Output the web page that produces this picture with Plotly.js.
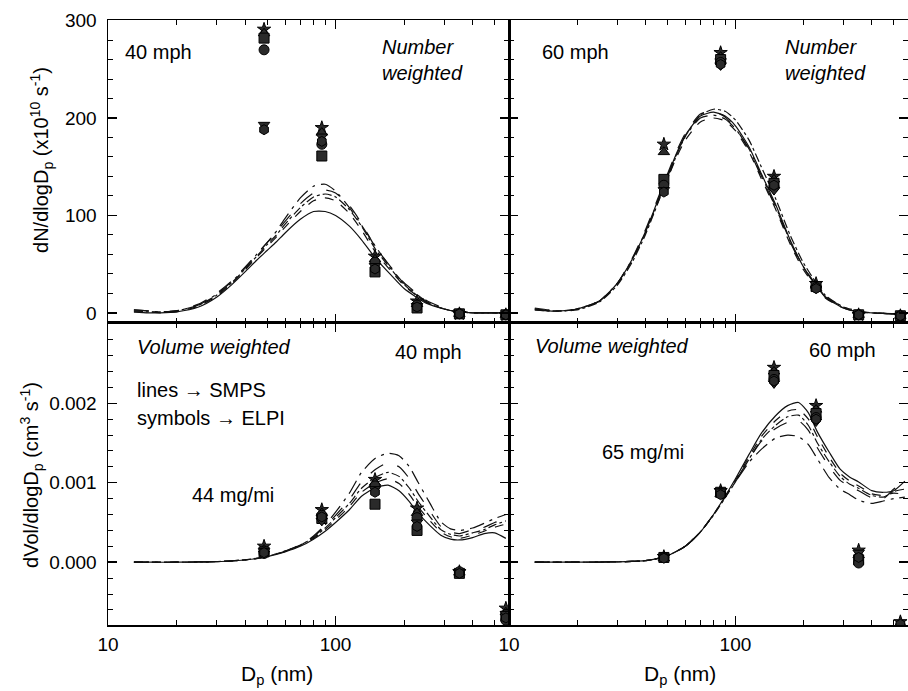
<!DOCTYPE html>
<html>
<head>
<meta charset="utf-8">
<script src="https://cdn.plot.ly/plotly-3.0.1.min.js"></script>
<style>html,body{margin:0;padding:0;background:#fff;}#chart{width:908px;height:691px;}</style>
</head>
<body>
<div id="chart"></div>
<script>
// ---------- DATA ----------
// SMPS size grid (nm) for number-weighted curves
var numD = [13,15,17,20,25,30,35,40,45,50,55,60,70,80,90,100,115,130,150,175,200,250,300,350,400,500,560];
// 40 mph, number weighted (x10^10 s^-1)
var tl1 = [1,0,0,1,6,16,29,42,54,64,73,82,96,104,104,100,89,75,56,39,25,10,4,1,0,0,0];
var tl2 = [2,1,0,1,7,17,30,44,57,68,78,88,104,115,118,115,102,85,62,43,28,11,4,1,0,0,0];
var tl3 = [1,1,1,2,8,18,31,45,58,70,80,91,108,119,122,119,106,89,65,45,29,11,4,1,0,0,0];
var tl4 = [3,2,1,2,9,20,33,47,60,72,83,94,112,123,126,123,110,92,67,47,31,13,5,2,0,0,0];
var tl5 = [3,2,1,2,8,19,32,46,60,72,84,97,118,130,132,125,108,90,68,46,30,12,4,1,0,0,-1];
// 60 mph, number weighted
var tr1 = [4,2,2,4,12,30,55,83,113,140,164,182,202,206,202,192,170,143,112,74,47,16,5,1,0,-1,-2];
var tr2 = [3,2,2,4,12,29,54,82,111,137,160,177,196,200,197,187,165,138,107,70,44,15,5,1,0,-1,-2];
var tr3 = [4,2,2,3,11,28,52,80,110,137,162,181,203,209,207,198,177,150,118,79,51,18,6,2,0,-1,-2];
var tr4 = [5,3,2,4,12,30,56,85,115,142,166,184,204,207,201,190,167,140,109,72,46,16,5,1,0,-1,-2];
var tr5 = [3,2,2,4,12,30,55,83,112,139,163,181,200,203,199,189,168,141,110,73,47,17,6,1,0,-1,-2];

// SMPS size grid (nm) for volume-weighted curves
var volD = [13,15,20,25,30,35,40,45,50,60,70,80,90,100,115,130,150,170,190,210,230,260,290,320,350,400,450,500,560];
// 40 mph, volume weighted (cm^3 s^-1)
var bl1 = [0,0,0,0.000003,0.000008,0.000015,0.000028,0.000045,0.00007,0.00013,0.0002,0.00029,0.00039,0.0005,0.00066,0.00083,0.00094,0.00097,0.0009,0.00077,0.00062,0.00046,0.00034,0.00029,0.00028,0.00031,0.00036,0.00037,0.0003];
var bl2 = [0,0,0,0.000003,0.000008,0.000015,0.000029,0.000047,0.000072,0.000135,0.00021,0.0003,0.00041,0.00053,0.0007,0.00088,0.001,0.00105,0.00099,0.00086,0.0007,0.00052,0.00038,0.00032,0.0003,0.00034,0.00039,0.00044,0.00048];
var bl3 = [0,0,0,0.000003,0.000008,0.000016,0.00003,0.000048,0.000073,0.000138,0.000215,0.00031,0.00043,0.00056,0.00074,0.00093,0.00107,0.00113,0.00108,0.00094,0.00077,0.00057,0.00041,0.00035,0.00033,0.00037,0.00041,0.00047,0.00052];
var bl4 = [0,0,0,0.000003,0.000008,0.000016,0.00003,0.000049,0.000074,0.00014,0.00022,0.00032,0.00045,0.00059,0.00079,0.00101,0.00117,0.00125,0.0012,0.00106,0.00087,0.00064,0.00045,0.00038,0.00036,0.00041,0.00044,0.0005,0.00054];
var bl5 = [0,0,0,0.000003,0.000008,0.000016,0.00003,0.00005,0.000075,0.00014,0.00021,0.00033,0.00047,0.00063,0.00087,0.00113,0.00131,0.00137,0.00134,0.00121,0.00101,0.00074,0.00051,0.00042,0.0004,0.00043,0.00049,0.00055,0.0006];
// 60 mph, volume weighted
var br1 = [0,0,0,0.000002,0.000005,0.00001,0.00002,0.000045,0.00008,0.0002,0.00038,0.0006,0.00083,0.00105,0.00136,0.00162,0.00184,0.00197,0.00201,0.00188,0.00164,0.00138,0.00117,0.00107,0.00101,0.0009,0.00088,0.0009,0.00102];
var br2 = [0,0,0,0.000002,0.000005,0.00001,0.00002,0.000045,0.00008,0.0002,0.00038,0.0006,0.00082,0.00103,0.00133,0.00158,0.00178,0.0019,0.00192,0.0018,0.00158,0.00132,0.00112,0.00102,0.00096,0.00086,0.00084,0.00087,0.00085];
var br3 = [0,0,0,0.000002,0.000005,0.00001,0.00002,0.000045,0.00008,0.0002,0.00038,0.00059,0.00081,0.00101,0.0013,0.00154,0.00172,0.00183,0.00185,0.00172,0.0015,0.00126,0.00108,0.00098,0.00093,0.00084,0.00082,0.00089,0.00092];
var br4 = [0,0,0,0.000002,0.000005,0.00001,0.00002,0.000045,0.00008,0.0002,0.00038,0.0006,0.00082,0.00102,0.0013,0.00152,0.00168,0.00176,0.00178,0.00166,0.00144,0.0012,0.00103,0.00095,0.0009,0.00081,0.0008,0.00092,0.001];
var br5 = [0,0,0,0.000002,0.000005,0.00001,0.00002,0.000045,0.00008,0.0002,0.00038,0.0006,0.00082,0.00101,0.00126,0.00142,0.00156,0.0016,0.00158,0.00148,0.0013,0.00106,0.00092,0.00085,0.00078,0.00074,0.00077,0.0008,0.00082];

// ELPI stage diameters (nm)
var elpiD40 = [48.5,87,149,228,350,560];
var elpiD60 = [48.3,86,148,227,350,535];
// ELPI runs, 40 mph number weighted
var tlS1 = [291,190,58,12,-1,-2];
var tlS2 = [287,185,55,9,-1,-2];
var tlS3 = [282,161,42,5,-1,-2];
var tlS4 = [270,173,52,8,-1,-2];
var tlS5 = [193,181,48,7,-1,-2];
var tlS6 = [188,176,45,6,-1,-2];
// ELPI runs, 60 mph number weighted
var trS1 = [173,267,140,30,-2,-3];
var trS2 = [165,263,137,28,-2,-3];
var trS3 = [137,260,133,27,-2,-3];
var trS4 = [131,257,129,26,-2,-3];
var trS5 = [126,254,126,25,-2,-3];
var trS6 = [124,255,131,25,-2,-3];
// ELPI runs, 40 mph volume weighted
var blS1 = [0.0002,0.00066,0.00104,0.00068,-0.00012,-0.00058];
var blS2 = [0.00016,0.00062,0.001,0.00062,-0.00013,-0.00063];
var blS3 = [0.00013,0.00055,0.00073,0.0004,-0.00014,-0.00068];
var blS4 = [0.00011,0.00059,0.00096,0.00056,-0.00012,-0.00073];
var blS5 = [0.00014,0.00052,0.00092,0.0005,-0.00013,-0.00065];
var blS6 = [0.00012,0.00057,0.00088,0.00045,-0.00014,-0.0007];
// ELPI runs, 60 mph volume weighted
var brS1 = [0.00007,0.0009,0.00245,0.00197,0.00015,-0.00075];
var brS2 = [0.00005,0.00086,0.0024,0.00192,0.00009,-0.00082];
var brS3 = [0.00006,0.00088,0.00235,0.00187,0.00003,-0.00088];
var brS4 = [0.00006,0.00087,0.0023,0.00182,-0.00001,-0.0008];
var brS5 = [0.00007,0.00089,0.00225,0.00177,0.00012,-0.00085];
var brS6 = [0.00005,0.00085,0.00228,0.0018,0.00006,-0.00078];

var majorTicksX = [10,100];
var majorTextX = ['10','100'];
var minorTicksX = [20,30,40,50,60,70,80,90,200,300,400,500];
var topTicksY = [0,100,200,300];
var topTextY = ['0','100','200','300'];
var botTicksY = [0,0.001,0.002];
var botTextY = ['0.000','0.001','0.002'];

// ---------- BUILD ----------
var dashes = ['solid','dash','dashdot','longdash','longdashdot'];
var syms = ['star','triangle-up','square','circle','triangle-down','hexagon'];
var traces = [];
function addLines(xs, ys, xa, ya){
  ys.forEach(function(y,i){
    traces.push({x:xs, y:y, xaxis:xa, yaxis:ya, mode:'lines', type:'scatter',
      line:{color:'#111', width:1.2, dash:dashes[i%dashes.length], shape:'spline', smoothing:0.6},
      hoverinfo:'skip', showlegend:false});
  });
}
function addSyms(xs, ys, xa, ya){
  ys.forEach(function(y,i){
    traces.push({x:xs, y:y, xaxis:xa, yaxis:ya, mode:'markers', type:'scatter',
      marker:{symbol:syms[i%syms.length], size:10, color:'#2a2a2a', line:{color:'#000', width:1}},
      showlegend:false});
  });
}
addLines(numD,[tl1,tl2,tl3,tl4,tl5],'x','y');
addSyms(elpiD40,[tlS1,tlS2,tlS3,tlS4,tlS5,tlS6],'x','y');
addLines(numD,[tr1,tr2,tr3,tr4,tr5],'x2','y2');
addSyms(elpiD60,[trS1,trS2,trS3,trS4,trS5,trS6],'x2','y2');
addLines(volD,[bl1,bl2,bl3,bl4,bl5],'x3','y3');
addSyms(elpiD40,[blS1,blS2,blS3,blS4,blS5,blS6],'x3','y3');
addLines(volD,[br1,br2,br3,br4,br5],'x4','y4');
addSyms(elpiD60,[brS1,brS2,brS3,brS4,brS5,brS6],'x4','y4');

var FONT = 'Liberation Sans, Arial, Helvetica, sans-serif';
var split = 0.50125, ysplit = 0.4992;
function xAx(dom, anchor, labels){
  return {type:'log', range:[1,2.762], domain:dom, anchor:anchor,
    showline:true, linecolor:'#000', linewidth:1.5, mirror:'ticks',
    ticks:'inside', ticklen:9, tickwidth:1.5, tickcolor:'#000',
    tickmode:'array', tickvals:majorTicksX, ticktext:majorTextX,
    showticklabels:labels, ticklabelstandoff:2,
    minor:{tickmode:'array', tickvals:minorTicksX, ticks:'inside', ticklen:5, tickwidth:1, tickcolor:'#000'},
    showgrid:false, zeroline:false,
    tickfont:{family:FONT, size:19, color:'#000'}};
}
function yAx(dom, anchor, range, tv, tt, mdtick, labels){
  return {range:range, domain:dom, anchor:anchor,
    showline:true, linecolor:'#000', linewidth:1.5, mirror:'ticks',
    ticks:'inside', ticklen:9, tickwidth:1.5, tickcolor:'#000',
    tickmode:'array', tickvals:tv, ticktext:tt,
    showticklabels:labels, ticklabelstandoff:6,
    minor:{tickmode:'linear', tick0:0, dtick:mdtick, ticks:'inside', ticklen:5, tickwidth:1, tickcolor:'#000'},
    showgrid:false, zeroline:false,
    tickfont:{family:FONT, size:19, color:'#000'}};
}
var topR = [-10.4, 300.6], botR = [-0.00079, 0.00301];

function ann(x,y,text,opts){
  var a = {xref:'paper', yref:'paper', x:x, y:y, text:text, showarrow:false,
    xanchor:'left', yanchor:'middle', align:'left',
    font:{family:FONT, size:20, color:'#000'}};
  if(opts){ for(var k in opts){ a[k]=opts[k]; } }
  return a;
}

var layout = {
  width:908, height:691,
  margin:{l:108, r:0, t:20, b:66},
  paper_bgcolor:'#fff', plot_bgcolor:'#fff',
  showlegend:false,
  xaxis: xAx([0,split],'y',false),
  xaxis2: xAx([split,1],'y2',false),
  xaxis3: xAx([0,split],'y3',true),
  xaxis4: xAx([split,1],'y4',true),
  yaxis: yAx([ysplit,1],'x',topR,topTicksY,topTextY,20,true),
  yaxis2: yAx([ysplit,1],'x2',topR,topTicksY,topTextY,20,false),
  yaxis3: yAx([0,ysplit],'x3',botR,botTicksY,botTextY,0.0002,true),
  yaxis4: yAx([0,ysplit],'x4',botR,botTicksY,botTextY,0.0002,false),
  annotations:[
    ann(0.019,0.947,'40 mph'),
    ann(0.34,0.934,'<i>Number<br>weighted</i>'),
    ann(0.54,0.947,'60 mph'),
    ann(0.844,0.934,'<i>Number<br>weighted</i>'),
    ann(0.034,0.4595,'<i>Volume weighted</i>'),
    ann(0.356,0.451,'40 mph'),
    ann(0.034,0.388,'lines \u2192 SMPS'),
    ann(0.034,0.342,'symbols \u2192 ELPI'),
    ann(0.1025,0.215,'44 mg/mi'),
    ann(0.531,0.461,'<i>Volume weighted</i>'),
    ann(0.874,0.4545,'60 mph'),
    ann(0.615,0.286,'65 mg/mi'),
    ann(-0.0825,0.7686,'dN/dlogD<sub>p</sub> (x10<sup>10</sup> s<sup>-1</sup>)',{textangle:-90, xanchor:'center', font:{family:FONT,size:20,color:'#000'}}),
    ann(-0.095,0.248,'dVol/dlogD<sub>p</sub> (cm<sup>3</sup> s<sup>-1</sup>)',{textangle:-90, xanchor:'center', font:{family:FONT,size:20,color:'#000'}}),
    ann(0.211,-0.083,'D<sub>p</sub> (nm)',{xanchor:'center', font:{family:FONT,size:21,color:'#000'}}),
    ann(0.715,-0.083,'D<sub>p</sub> (nm)',{xanchor:'center', font:{family:FONT,size:21,color:'#000'}})
  ]
};
Plotly.newPlot('chart', traces, layout, {staticPlot:true, displayModeBar:false});
</script>
</body>
</html>
